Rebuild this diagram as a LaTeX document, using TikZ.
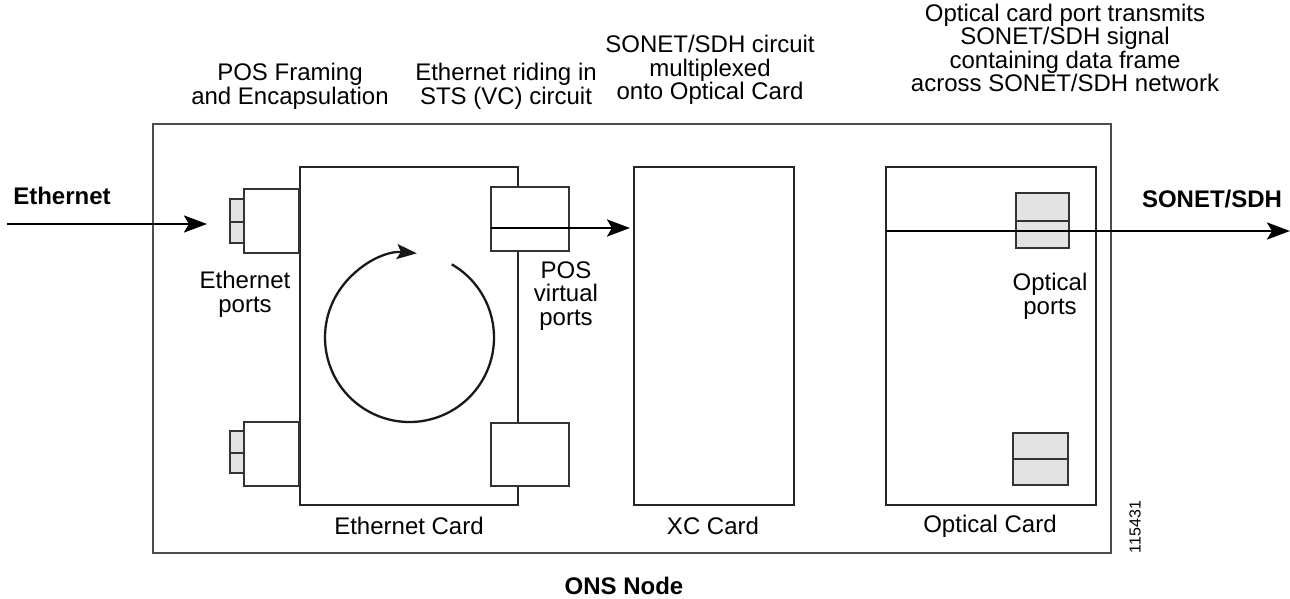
\documentclass[tikz,border=0pt]{standalone}
\usepackage{fontspec}
\setmainfont{Liberation Sans}
\usetikzlibrary{arrows.meta}
\begin{document}
\begin{tikzpicture}[x=1pt,y=1pt,
  txt/.style={inner sep=0pt, align=center, font=\fontsize{24}{23.6}\selectfont},
  btxt/.style={txt, font=\fontsize{24}{23.6}\selectfont\bfseries},
  outerbox/.style={draw=black!70, line width=1.1pt, inner sep=0pt, outer sep=0pt, anchor=north west},
  card/.style={draw=black!85, line width=1.3pt, fill=white, inner sep=0pt, outer sep=0pt, anchor=north west},
  portbox/.style={draw=black!80, line width=1.2pt, fill=white, inner sep=0pt, outer sep=0pt, anchor=north west},
  tab/.style={draw=black!80, line width=1.2pt, fill=black!11, inner sep=0pt, outer sep=0pt, anchor=north west},
  bigarrow/.style={draw=black, line width=2.7pt, -{Stealth[length=23pt,width=17pt,inset=5pt]}},
  looparrow/.style={draw=black!90, line width=2.3pt, -{Stealth[length=20pt,width=15pt,inset=4pt]}}
]
\useasboundingbox (0,0) rectangle (1290,-598);

% outer node box
\node[outerbox, minimum width=958pt, minimum height=429pt] (ons) at (153,-124) {};

% cards
\node[card, minimum width=218pt, minimum height=338pt] (ethcard) at (300,-167) {};
\node[card, minimum width=160pt, minimum height=338pt] (xccard) at (634,-167) {};
\node[card, minimum width=210pt, minimum height=338pt] (optcard) at (886,-167) {};

% ethernet ports
\node[portbox, minimum width=55pt, minimum height=64pt] (ethA) at (244,-189) {};
\node[tab, minimum width=14pt, minimum height=23pt] (ethAt1) at (230,-199) {};
\node[tab, minimum width=14pt, minimum height=21pt] (ethAt2) at (230,-222) {};
\node[portbox, minimum width=55pt, minimum height=64pt] (ethB) at (244,-422) {};
\node[tab, minimum width=14pt, minimum height=22pt] (ethBt1) at (230,-431) {};
\node[tab, minimum width=14pt, minimum height=20pt] (ethBt2) at (230,-453) {};

% POS virtual ports
\node[portbox, minimum width=78pt, minimum height=64pt] (posA) at (491,-187) {};
\node[portbox, minimum width=78pt, minimum height=63pt] (posB) at (491,-423) {};

% optical ports
\node[tab, minimum width=53pt, minimum height=28pt] (optA1) at (1016,-193) {};
\node[tab, minimum width=53pt, minimum height=27pt] (optA2) at (1016,-221) {};
\node[tab, minimum width=55pt, minimum height=26pt] (optB1) at (1013,-433) {};
\node[tab, minimum width=55pt, minimum height=26pt] (optB2) at (1013,-459) {};

% arrows
\coordinate (ethstart) at (7,-224);
\coordinate (ethend) at (207,-224);
\draw[bigarrow] (ethstart) -- (ethend);

\coordinate (posstart) at (491,-228);
\coordinate (posend) at (630,-228);
\draw[bigarrow] (posstart) -- (posend);

\coordinate (optstart) at (886,-231);
\coordinate (optend) at (1290,-231);
\draw[bigarrow] (optstart) -- (optend);

% circular arrow
\coordinate (loopc) at (409.5,-337.5);
\draw[looparrow] ([shift={(60:84.5pt)}]loopc) arc[start angle=60, end angle=-275, radius=84.5pt];

% labels
\node[btxt] (lEth) at (62,-196) {Ethernet};
\node[btxt] (lSonet) at (1212,-199) {SONET/SDH};
\node[txt] (lEthports) at (245,-294) {Ethernet\\ports};
\node[txt] (lPosports) at (566,-296) {POS\\virtual\\ports};
\node[txt] (lOptports) at (1050,-296) {Optical\\ports};
\node[txt] (lEthcard) at (409,-526) {Ethernet Card};
\node[txt] (lXCcard) at (713,-526) {XC Card};
\node[txt] (lOptcard) at (990,-526) {Optical Card};
\node[btxt] (lONS) at (624,-586) {ONS Node};

\node[txt] (tPOS) at (290,-86) {POS Framing\\and Encapsulation};
\node[txt] (tRide) at (506,-86) {Ethernet riding in\\STS (VC) circuit};
\node[txt] (tSonet) at (710,-70) {SONET/SDH circuit\\multiplexed\\onto Optical Card};
\node[txt] (tOpt) at (1065,-48) {Optical card port transmits\\SONET/SDH signal\\containing data frame\\across SONET/SDH network};

\node[inner sep=0pt, rotate=90, font=\fontsize{16}{16}\selectfont] (fig) at (1135,-527) {115431};
\end{tikzpicture}
\end{document}
